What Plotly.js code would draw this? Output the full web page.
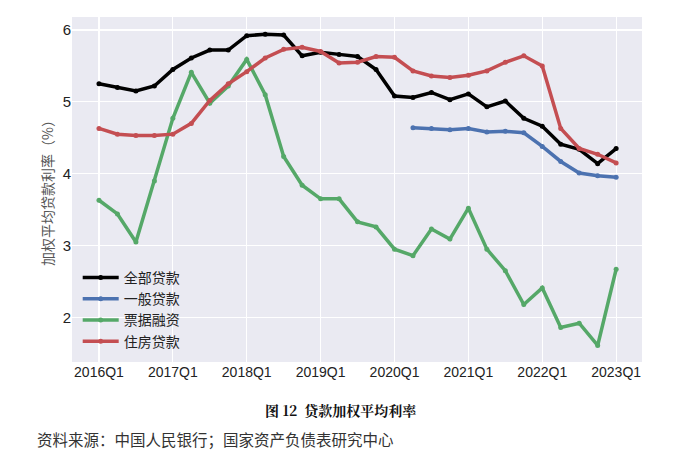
<!DOCTYPE html>
<html><head><meta charset="utf-8">
<script src="https://cdn.plot.ly/plotly-3.0.1.min.js"></script>
<style>html,body{margin:0;padding:0;background:#fff;}#chart{width:700px;height:468px;}</style>
</head><body><div id="chart"></div>
<script>
const quarters = [];
for (let y = 2016; y <= 2023; y++) for (let q = 1; q <= 4; q++) { if (y === 2023 && q > 1) break; quarters.push(y + 'Q' + q); }
const allLoans = [5.25,5.20,5.15,5.22,5.45,5.61,5.72,5.72,5.92,5.94,5.93,5.64,5.69,5.66,5.63,5.45,5.08,5.06,5.13,5.03,5.11,4.93,5.01,4.77,4.66,4.41,4.34,4.14,4.35];
const generalLoans = [null,null,null,null,null,null,null,null,null,null,null,null,null,null,null,null,null,4.64,4.63,4.61,4.63,4.58,4.59,4.57,4.38,4.17,4.01,3.97,3.95];
const billFinancing = [3.63,3.44,3.05,3.90,4.77,5.41,4.98,5.22,5.59,5.10,4.24,3.84,3.65,3.65,3.33,3.26,2.95,2.86,3.23,3.09,3.52,2.95,2.65,2.18,2.41,1.86,1.92,1.61,2.67];
const mortgage = [4.63,4.55,4.53,4.53,4.55,4.70,5.02,5.25,5.42,5.61,5.73,5.76,5.70,5.54,5.55,5.63,5.62,5.43,5.36,5.34,5.37,5.43,5.55,5.64,5.50,4.63,4.35,4.27,4.15];
const seriesNames = ['全部贷款','一般贷款','票据融资','住房贷款'];
const tickQ = ['2016Q1','2017Q1','2018Q1','2019Q1','2020Q1','2021Q1','2022Q1','2023Q1'];
const yTicks = [2,3,4,5,6];

const colors = ['#000000','#4C72B0','#55A868','#C44E52'];
const data = [allLoans, generalLoans, billFinancing, mortgage].map((d,i)=>({
  x: quarters, y: d, name: seriesNames[i], type:'scatter', mode:'lines+markers',
  line:{color:colors[i], width:3.5}, marker:{color:colors[i], size:5}, connectgaps:false
}));
const font = "'Liberation Sans', Arial, 'Noto Sans CJK SC', sans-serif";
const layout = {
  width:700, height:468, paper_bgcolor:'#ffffff', plot_bgcolor:'#EAEAF2',
  margin:{l:72, r:58, t:17, b:106},
  font:{family:font, color:'#222', size:14},
  xaxis:{type:'category', range:[-1.46,29.4], tickvals:tickQ, ticktext:tickQ, showgrid:true, gridcolor:'#ffffff', gridwidth:1.2, zeroline:false, showline:false, ticks:'', tickfont:{size:14, color:'#222'}},
  yaxis:{range:[1.38,6.18], tickvals:yTicks, showgrid:true, gridcolor:'#ffffff', gridwidth:1.2, zeroline:false, showline:false, ticks:'', tickfont:{size:15, color:'#222'},
    title:{text:'加权平均贷款利率（%）', font:{family:"'Noto Sans CJK SC', sans-serif", size:14, color:'#555'}, standoff:5}},
  showlegend:true,
  legend:{x:0.01, y:0.29, xanchor:'left', yanchor:'top', bgcolor:'rgba(0,0,0,0)', font:{family:"'Noto Sans CJK SC', sans-serif", size:14, color:'#222'}, itemwidth:36, tracegroupgap:0},
  annotations:[
    {text:'<b>图 12  贷款加权平均利率</b>', xref:'paper', yref:'paper', x:(341-72)/570, y:-(410-362)/345, xanchor:'center', yanchor:'middle', showarrow:false, font:{family:"'Noto Serif CJK SC','Noto Sans CJK SC', serif", size:14, color:'#111'}},
    {text:'资料来源：中国人民银行；国家资产负债表研究中心', xref:'paper', yref:'paper', x:(35-72)/570, y:-(439-362)/345, xanchor:'left', yanchor:'middle', showarrow:false, font:{family:"'Noto Sans CJK SC', sans-serif", size:15.5, color:'#333'}}
  ]
};
Plotly.newPlot('chart', data, layout, {displayModeBar:false, staticPlot:true});
</script></body></html>
